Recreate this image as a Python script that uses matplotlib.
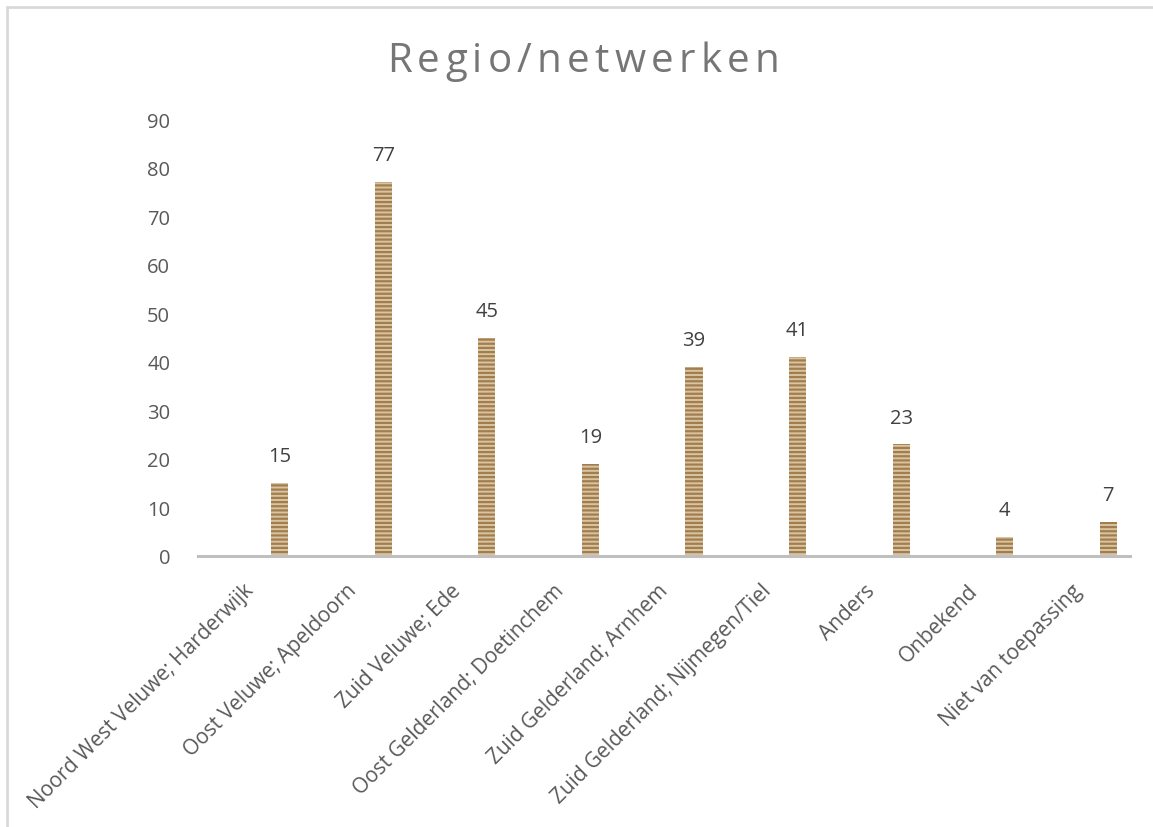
import numpy as np
import matplotlib.pyplot as plt
import matplotlib.transforms as mtransforms
from matplotlib.patches import Rectangle

# Data
categories = ["Noord West Veluwe; Harderwijk", "Oost Veluwe; Apeldoorn", "Zuid Veluwe; Ede",
              "Oost Gelderland; Doetinchem", "Zuid Gelderland; Arnhem",
              "Zuid Gelderland; Nijmegen/Tiel", "Anders", "Onbekend", "Niet van toepassing"]
values = [15, 77, 45, 19, 39, 41, 23, 4, 7]
yticks = [0, 10, 20, 30, 40, 50, 60, 70, 80, 90]
title = 'Regio/netwerken'

plt.rcParams['font.family'] = ['Open Sans', 'DejaVu Sans']
plt.rcParams['hatch.linewidth'] = 1.6

fig = plt.figure(figsize=(11.53, 8.28), dpi=100)
ax = fig.add_axes([198/1153, 1 - 557/828, (1130-198)/1153, (557-120)/828])

# chart area border
fig.add_artist(Rectangle((7/1153, -0.05), 1.1, 1 - 8/828 + 0.05, transform=fig.transFigure,
                         fill=False, edgecolor='#d9d9d9', linewidth=2))

x = np.arange(len(categories))
offset = 0.29
bars = ax.bar(x + offset, values, width=0.165, color='#d9c4a2', hatch='----',
              edgecolor='#a27d4d', linewidth=0, zorder=2)

for xi, v in zip(x, values):
    ax.annotate(str(v), (xi + offset, v), xytext=(0, 12), textcoords='offset points',
                ha='center', va='bottom', fontsize=14.5, color='#404040')

ax.set_xlim(-0.5, len(categories) - 0.5)
ax.set_ylim(0, 90)
ax.set_yticks(yticks)
ax.set_xticks(x)
ax.set_xticklabels(categories, rotation=45, ha='right', rotation_mode='anchor')
ax.tick_params(axis='both', length=0, labelcolor='#595959')
ax.tick_params(axis='y', pad=20, labelsize=14.5)
ax.tick_params(axis='x', pad=17, labelsize=15)

# nudge the rotated labels a little to the left
shift = mtransforms.ScaledTranslation(-7/100, 0, fig.dpi_scale_trans)
for lab in ax.get_xticklabels():
    lab.set_transform(lab.get_transform() + shift)

for s in ['top', 'right', 'left']:
    ax.spines[s].set_visible(False)
ax.spines['bottom'].set_color('#bfbfbf')
ax.spines['bottom'].set_linewidth(2.2)
ax.spines['bottom'].set_zorder(3)

# title with letter spacing, drawn char by char
renderer = fig.canvas.get_renderer()
spacing = 5.2
widths = []
for ch in title:
    t = fig.text(0, 0, ch, fontsize=29)
    widths.append(t.get_window_extent(renderer).width)
    t.remove()
total = sum(widths) + spacing * (len(title) - 1)
xpos = 583 - total / 2
for ch, w in zip(title, widths):
    fig.text(xpos / 1153, 1 - 62/828, ch, ha='left', va='center',
             fontsize=29, color='#767676')
    xpos += w + spacing

plt.savefig('out.png', dpi=100)
